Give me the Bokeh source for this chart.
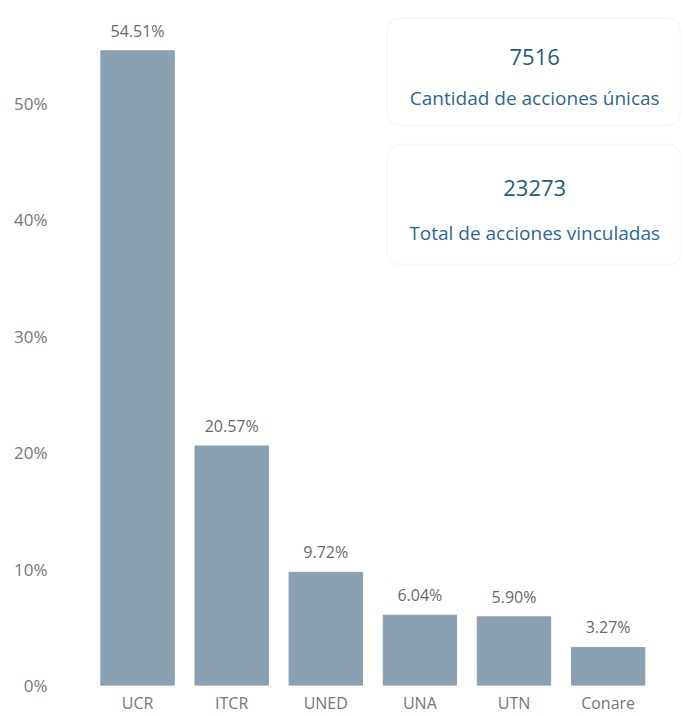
from bokeh.plotting import figure
from bokeh.models import (ColumnDataSource, Range1d, FixedTicker, LabelSet,
                          BoxAnnotation, Label)
from bokeh.core.properties import value
from bokeh.embed import file_html
from bokeh.resources import INLINE

# ---- data ----
categories = ["UCR", "ITCR", "UNED", "UNA", "UTN", "Conare"]
shares = [54.51, 20.57, 9.72, 6.04, 5.90, 3.27]
y_ticks = [0, 10, 20, 30, 40, 50]
kpi_values = ["7516", "23273"]
kpi_labels = ["Cantidad de acciones únicas", "Total de acciones vinculadas"]

FONT = "Open Sans"
BAR = "#8aa0b1"
GRAY = "#777777"

xs = list(range(len(categories)))
src = ColumnDataSource(dict(
    x=xs, top=shares, cat=categories,
    lab=[f"{v:.2f}%" for v in shares],
))

p = figure(width=682, height=716, output_backend="svg", toolbar_location=None,
           x_range=Range1d(-0.5, 5.78), y_range=Range1d(0, 58.4),
           min_border_left=90, min_border_right=1, min_border_top=5,
           min_border_bottom=0)
p.outline_line_color = None
p.xgrid.grid_line_color = None
p.ygrid.grid_line_color = None
p.background_fill_color = "white"

p.vbar(x="x", top="top", bottom=0, width=0.78, source=src,
       fill_color=BAR, line_color=BAR)

labels = LabelSet(x="x", y="top", text="lab", source=src, y_offset=9,
                  text_align="center", text_baseline="bottom",
                  text_font=value(FONT), text_font_size="16px",
                  text_color="#6a6a6a")
p.add_layout(labels)

# axes
p.xaxis.ticker = FixedTicker(ticks=xs)
p.xaxis.major_label_overrides = {i: c for i, c in enumerate(categories)}
p.yaxis.ticker = FixedTicker(ticks=y_ticks)
p.yaxis.major_label_overrides = {t: f"{t}%" for t in y_ticks}
for ax in (p.xaxis[0], p.yaxis[0]):
    ax.axis_line_color = None
    ax.major_tick_line_color = None
    ax.minor_tick_line_color = None
    ax.major_tick_out = 0
    ax.major_tick_in = 0
    ax.major_label_text_font = FONT
    ax.major_label_text_color = GRAY
p.xaxis.major_label_text_font_size = "16px"
p.yaxis.major_label_text_font_size = "17px"
p.xaxis.major_label_standoff = 6
p.yaxis.major_label_standoff = 43

# KPI cards (decoration)
cards = [(57.3, 48.1), (46.45, 36.15)]
for (top, bottom), val, lab in zip(cards, kpi_values, kpi_labels):
    p.add_layout(BoxAnnotation(left=2.655, right=5.77, top=top, bottom=bottom,
                               fill_color="white", fill_alpha=1.0,
                               line_color="#e6e9ec", line_width=2,
                               border_radius=12))
    mid_x = 4.22
    h = top - bottom
    p.add_layout(Label(x=mid_x, y=top - h * 0.36, text=val,
                       text_align="center", text_baseline="middle",
                       text_font=FONT, text_font_size="22px",
                       text_color="#245c87"))
    p.add_layout(Label(x=mid_x, y=top - h * 0.74, text=lab,
                       text_align="center", text_baseline="middle",
                       text_font=FONT, text_font_size="19px",
                       text_color="#2b6897"))

open("out.html", "w").write(file_html(p, INLINE))
